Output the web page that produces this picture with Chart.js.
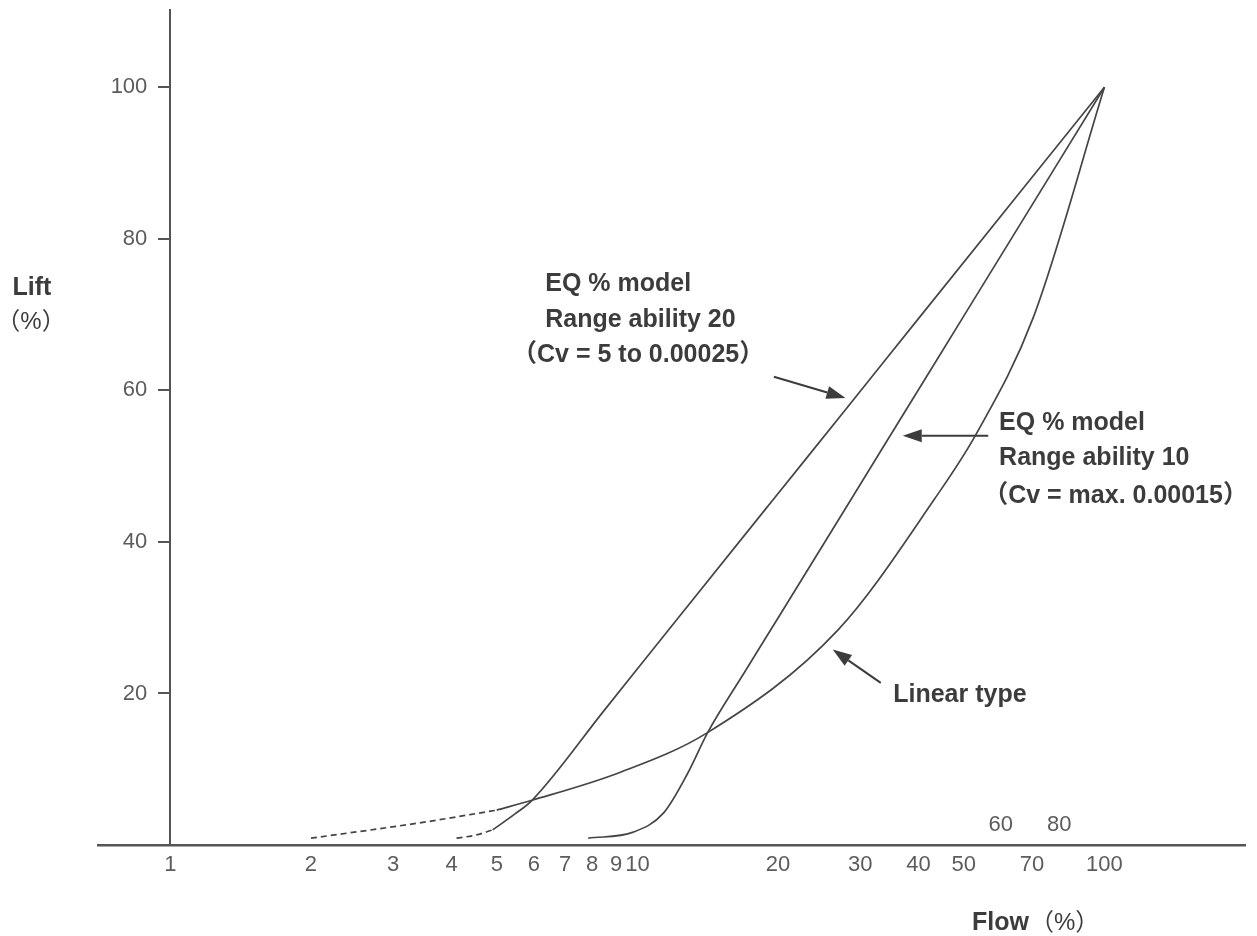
<!DOCTYPE html>
<html>
<head>
<meta charset="utf-8">
<script src="https://cdn.jsdelivr.net/npm/chart.js@4/dist/chart.umd.min.js"></script>
<style>
  html, body { margin: 0; padding: 0; background: #fff; }
  #wrap { width: 1257px; height: 936px; position: relative; }
</style>
</head>
<body>
<div id="wrap"><canvas id="myChart"></canvas></div>
<script>
// Flow (%) on a log axis, lift (%) on a linear axis
const xTicksBelow = [1, 2, 3, 4, 5, 6, 7, 8, 9, 10, 20, 30, 40, 50, 70, 100];
const xTicksAbove = [60, 80];
const yTicks = [20, 40, 60, 80, 100];

// linear type
const linearDashFlow = [2.0, 3.4, 5.0];
const linearDashLift = [0.9, 2.9, 4.6];
const linearFlow = [5.0, 5.95, 9.2, 14.1, 26.9, 43.2, 53.1, 70.4, 100];
const linearLift = [4.6, 5.9, 9.6, 14.8, 28.4, 45.6, 54.2, 69.6, 100];

// EQ % model, range ability 20
const eq20DashFlow = [4.1, 4.5, 4.9];
const eq20DashLift = [0.9, 1.3, 2.0];
const eq20Flow = [4.9, 5.47, 5.95, 8.5, 12.2, 19.6, 28.2, 39.9, 100];
const eq20Lift = [2.0, 4.1, 5.9, 17.8, 29.9, 45.7, 57.8, 69.4, 100];

// EQ % model, range ability 10
const eq10Flow = [7.85, 9.8, 11.37, 12.8, 14.13, 17.0, 20.07, 28.8, 38.9, 49.3, 100];
const eq10Lift = [0.9, 1.7, 4.2, 9.4, 14.8, 22.9, 30.1, 45.8, 58.9, 69.2, 100];

// callouts: text lines anchored at [flow, lift]
const notes = [
    {text: 'EQ % model', at: [6.35, 73.1]},
    {text: 'Range ability 20', at: [6.35, 68.4]},
    {text: '（Cv = 5 to 0.00025）', at: [5.39, 63.8]},
    {text: 'EQ % model', at: [59.5, 54.8]},
    {text: 'Range ability 10', at: [59.5, 50.2]},
    {text: '（Cv = max. 0.00015）', at: [55.0, 45.2]},
    {text: 'Linear type', at: [35.3, 18.9]}
];
const arrows = [
    {from: [19.6, 61.8], to: [27.9, 59.0]},
    {from: [56.4, 54.0], to: [37.0, 54.0]},
    {from: [33.2, 21.4], to: [26.2, 25.8]}
];

const inkColor = '#3c3c3c';
const curveColor = '#454545';
const tickColor = '#5c5c5c';
const tickFamily = "'Liberation Sans', Arial, sans-serif";
const tickSize = 22;
const yTickLength = 11;
const yLabelGap = 12;
const boldFont = "bold 25px 'Liberation Sans', Arial, 'Noto Sans CJK JP', sans-serif";
const plainFont = "24px 'Liberation Sans', Arial, 'Noto Sans CJK JP', sans-serif";

function pts(xs, ys) {
    return xs.map((x, i) => ({x: x, y: ys[i]}));
}

function curve(label, xs, ys, dashed) {
    return {
        label: label,
        data: pts(xs, ys),
        borderColor: curveColor,
        borderWidth: 1.7,
        borderDash: dashed ? [6, 4] : [],
        pointRadius: 0,
        fill: false,
        cubicInterpolationMode: 'monotone'
    };
}

const notesPlugin = {
    id: 'notes',
    afterDraw(chart) {
        const ctx = chart.ctx;
        const xs = chart.scales.x;
        const ys = chart.scales.y;
        ctx.save();

        // y tick labels, left of the axis that sits at flow = 1
        const axisX = xs.getPixelForValue(1);
        ctx.fillStyle = tickColor;
        ctx.font = tickSize + 'px ' + tickFamily;
        ctx.textAlign = 'right';
        ctx.textBaseline = 'middle';
        yTicks.forEach(v => {
            ctx.fillText(String(v), axisX - yTickLength - yLabelGap, ys.getPixelForValue(v));
        });

        arrows.forEach(a => {
            const x1 = xs.getPixelForValue(a.from[0]), y1 = ys.getPixelForValue(a.from[1]);
            const x2 = xs.getPixelForValue(a.to[0]), y2 = ys.getPixelForValue(a.to[1]);
            const ang = Math.atan2(y2 - y1, x2 - x1);
            const headLen = 19, headW = 6.5;
            const bx = x2 - headLen * Math.cos(ang), by = y2 - headLen * Math.sin(ang);
            ctx.strokeStyle = inkColor;
            ctx.lineWidth = 2;
            ctx.beginPath();
            ctx.moveTo(x1, y1);
            ctx.lineTo(bx, by);
            ctx.stroke();
            ctx.fillStyle = inkColor;
            ctx.beginPath();
            ctx.moveTo(x2, y2);
            ctx.lineTo(bx + headW * Math.sin(ang), by - headW * Math.cos(ang));
            ctx.lineTo(bx - headW * Math.sin(ang), by + headW * Math.cos(ang));
            ctx.closePath();
            ctx.fill();
        });

        ctx.fillStyle = inkColor;
        ctx.textBaseline = 'alphabetic';
        ctx.textAlign = 'left';
        ctx.font = boldFont;
        notes.forEach(n => {
            ctx.fillText(n.text, xs.getPixelForValue(n.at[0]), ys.getPixelForValue(n.at[1]));
        });

        // axis titles
        ctx.textAlign = 'center';
        ctx.fillText('Lift', 32, 295);
        ctx.font = plainFont;
        ctx.fillText('（%）', 31, 329);

        ctx.textAlign = 'left';
        ctx.font = boldFont;
        ctx.fillText('Flow', 972, 930);
        const w = ctx.measureText('Flow').width;
        ctx.font = plainFont;
        ctx.fillText('（%）', 972 + w + 1, 930);

        ctx.restore();
    }
};

const ctx = document.getElementById('myChart').getContext('2d');
new Chart(ctx, {
    type: 'line',
    data: {
        datasets: [
            curve('Linear type (extrapolated)', linearDashFlow, linearDashLift, true),
            curve('Linear type', linearFlow, linearLift, false),
            curve('EQ % 20 (extrapolated)', eq20DashFlow, eq20DashLift, true),
            curve('EQ % model, range ability 20', eq20Flow, eq20Lift, false),
            curve('EQ % model, range ability 10', eq10Flow, eq10Lift, false)
        ]
    },
    options: {
        responsive: true,
        maintainAspectRatio: false,
        animation: false,
        layout: {padding: {left: 98, right: 12, top: 10, bottom: 91}},
        plugins: {
            legend: {display: false},
            tooltip: {enabled: false}
        },
        scales: {
            x: {
                type: 'logarithmic',
                min: 0.7,
                max: 200,
                position: {y: 0},
                afterBuildTicks: scale => { scale.ticks = xTicksBelow.map(v => ({value: v})); },
                grid: {display: false, drawTicks: false},
                border: {display: true, color: '#555', width: 2.5},
                ticks: {
                    autoSkip: false,
                    maxRotation: 0,
                    padding: 7,
                    color: tickColor,
                    font: {family: tickFamily, size: tickSize},
                    callback: v => String(v)
                }
            },
            x2: {
                type: 'logarithmic',
                min: 0.7,
                max: 200,
                position: {y: 0},
                afterBuildTicks: scale => { scale.ticks = xTicksAbove.map(v => ({value: v})); },
                grid: {display: false, drawTicks: false},
                border: {display: false},
                ticks: {
                    autoSkip: false,
                    maxRotation: 0,
                    padding: -33,
                    color: tickColor,
                    font: {family: tickFamily, size: tickSize},
                    callback: v => String(v)
                }
            },
            y: {
                type: 'linear',
                min: 0,
                max: 110.2,
                position: {x: 1},
                afterBuildTicks: scale => { scale.ticks = yTicks.map(v => ({value: v})); },
                grid: {display: true, drawOnChartArea: false, drawTicks: true, tickLength: yTickLength, color: '#555', lineWidth: 2},
                border: {display: true, color: '#555', width: 2},
                ticks: {display: false}
            }
        }
    },
    plugins: [notesPlugin]
});
</script>
</body>
</html>
